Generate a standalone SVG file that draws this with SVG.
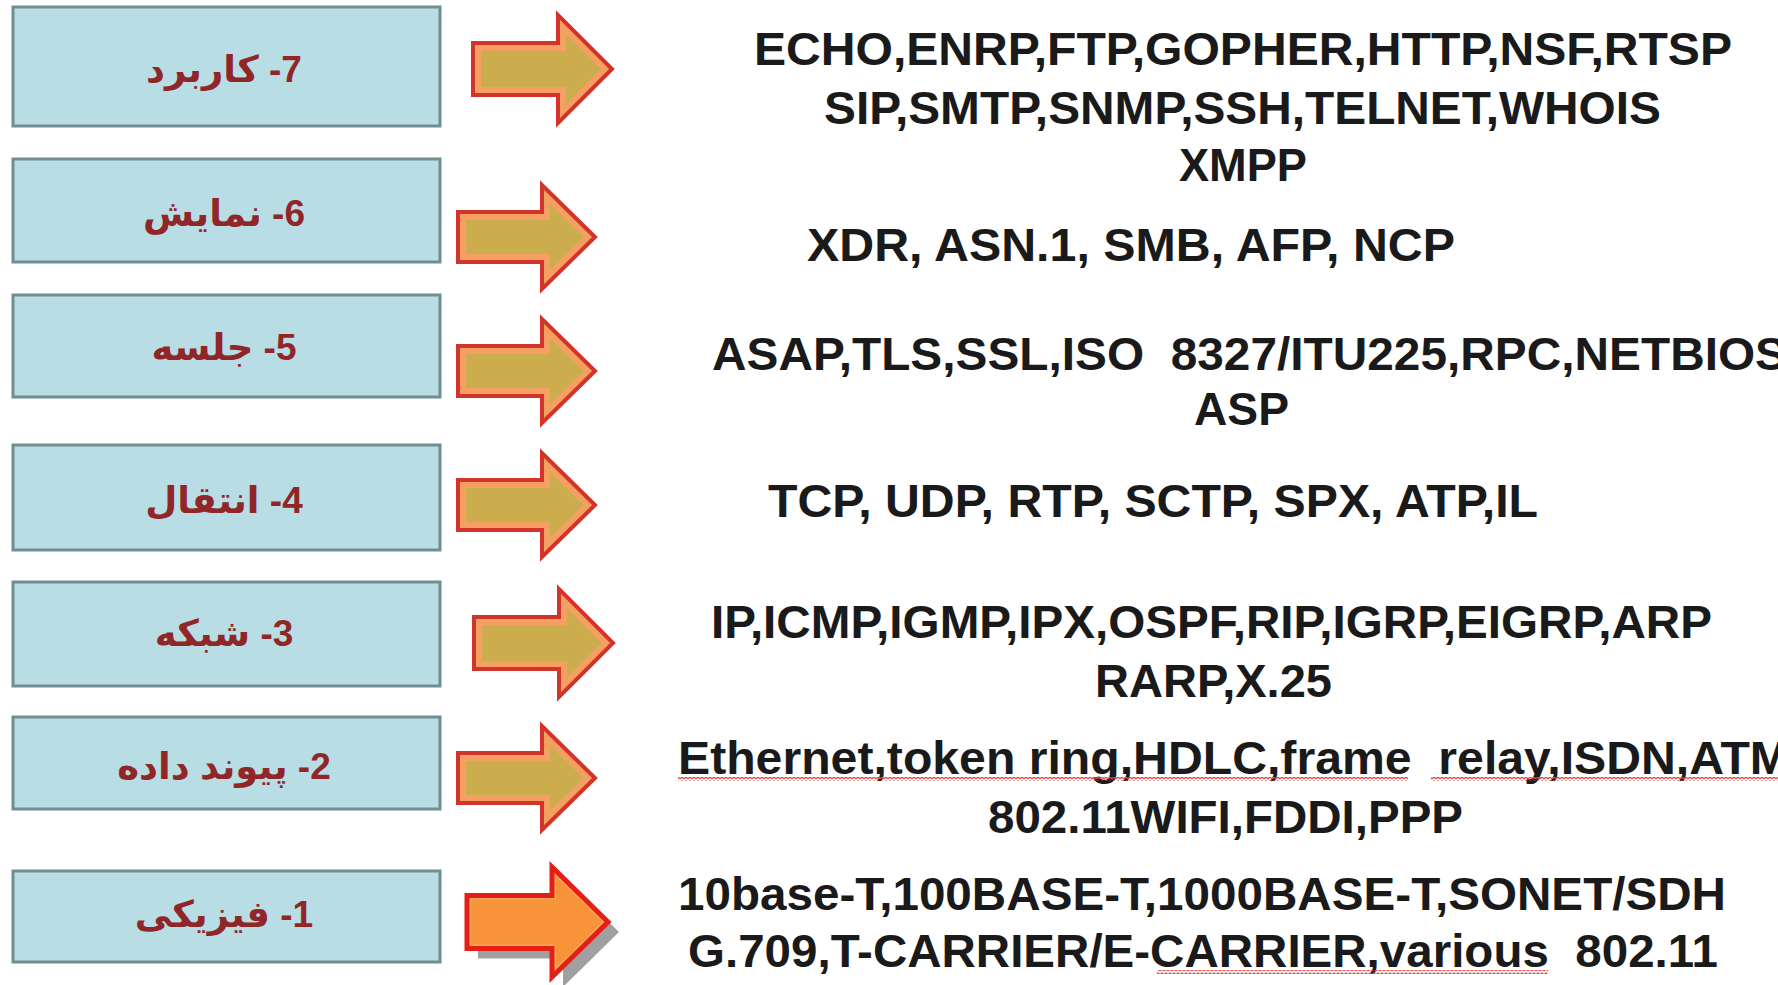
<svg xmlns="http://www.w3.org/2000/svg" xmlns:xlink="http://www.w3.org/1999/xlink" width="1778" height="985" viewBox="0 0 1778 985">
<style>
.box{fill:#B8DDE4;stroke:#718D91;stroke-width:3}
.lbl{font-family:"Liberation Sans","DejaVu Sans",sans-serif;font-weight:bold;font-size:37px;fill:#912628;text-anchor:middle;direction:rtl;unicode-bidi:embed}
.pr{font-family:"Liberation Sans",Arial,sans-serif;font-weight:bold;font-size:47px;fill:#1a1a1a;white-space:pre}
.af{fill:#CCAD4E}
.ab{fill:none;stroke:#F5A062;stroke-width:16}
.ar{fill:none;stroke:#D2342A;stroke-width:4;stroke-linejoin:miter}
</style>
<defs>
<path id="shA" d="M0,-26 H85 V-54 L139,0 L85,54 V26 H0 Z"/>
<path id="shB" d="M0,-25 H84 V-52 L137,0 L84,52 V25 H0 Z"/>
<path id="sh1" d="M0,-26.5 H85 V-55 L141,0 L85,55 V26.5 H0 Z"/>
<clipPath id="cA"><use xlink:href="#shA"/></clipPath>
<clipPath id="cB"><use xlink:href="#shB"/></clipPath>
<clipPath id="c1"><use xlink:href="#sh1"/></clipPath>
<pattern id="sq" width="4" height="4" patternUnits="userSpaceOnUse"><path d="M0,3 L2,1 L4,3" fill="none" stroke="#D94C4C" stroke-width="1.3"/></pattern>
</defs>
<rect width="1778" height="985" fill="#ffffff"/>

<g id="layer7"><rect class="box" x="13" y="7" width="427" height="119"/><text class="lbl" x="224" y="82">7- کاربرد</text></g>
<g id="layer6"><rect class="box" x="13" y="159" width="427" height="103"/><text class="lbl" x="224" y="226">6- نمایش</text></g>
<g id="layer5"><rect class="box" x="13" y="295" width="427" height="102"/><text class="lbl" x="224" y="360">5- جلسه</text></g>
<g id="layer4"><rect class="box" x="13" y="445" width="427" height="105"/><text class="lbl" x="224" y="513">4- انتقال</text></g>
<g id="layer3"><rect class="box" x="13" y="582" width="427" height="104"/><text class="lbl" x="224" y="646">3- شبکه</text></g>
<g id="layer2"><rect class="box" x="13" y="717" width="427" height="92"/><text class="lbl" x="224" y="779">2- پیوند داده</text></g>
<g id="layer1"><rect class="box" x="13" y="871" width="427" height="91"/><text class="lbl" x="224" y="927">1- فیزیکی</text></g>

<g id="connectors">
<g transform="translate(473,69)"><use xlink:href="#shA" class="af"/><use xlink:href="#shA" class="ab" clip-path="url(#cA)"/><use xlink:href="#shA" class="ar"/></g>
<g transform="translate(458,237)"><use xlink:href="#shB" class="af"/><use xlink:href="#shB" class="ab" clip-path="url(#cB)"/><use xlink:href="#shB" class="ar"/></g>
<g transform="translate(458,371)"><use xlink:href="#shB" class="af"/><use xlink:href="#shB" class="ab" clip-path="url(#cB)"/><use xlink:href="#shB" class="ar"/></g>
<g transform="translate(458,505)"><use xlink:href="#shB" class="af"/><use xlink:href="#shB" class="ab" clip-path="url(#cB)"/><use xlink:href="#shB" class="ar"/></g>
<g transform="translate(474,643)"><use xlink:href="#shA" class="af"/><use xlink:href="#shA" class="ab" clip-path="url(#cA)"/><use xlink:href="#shA" class="ar"/></g>
<g transform="translate(458,778)"><use xlink:href="#shB" class="af"/><use xlink:href="#shB" class="ab" clip-path="url(#cB)"/><use xlink:href="#shB" class="ar"/></g>
<g transform="translate(467,922)">
<use xlink:href="#sh1" transform="translate(11,10)" fill="#A0A0A0"/>
<use xlink:href="#sh1" fill="#F7943A"/>
<use xlink:href="#sh1" fill="none" stroke="#FBA65A" stroke-width="8" clip-path="url(#c1)"/>
<use xlink:href="#sh1" fill="none" stroke="#E51F16" stroke-width="5"/>
</g>
</g>

<g id="protocols7"><text class="pr" x="754" y="65" textLength="978" lengthAdjust="spacingAndGlyphs">ECHO,ENRP,FTP,GOPHER,HTTP,NSF,RTSP</text><text class="pr" x="824" y="124" textLength="837" lengthAdjust="spacingAndGlyphs">SIP,SMTP,SNMP,SSH,TELNET,WHOIS</text><text class="pr" x="1179" y="181" textLength="128" lengthAdjust="spacingAndGlyphs">XMPP</text></g>
<g id="protocols6"><text class="pr" x="807" y="261" textLength="648" lengthAdjust="spacingAndGlyphs">XDR, ASN.1, SMB, AFP, NCP</text></g>
<g id="protocols5"><text class="pr" x="712" y="370" textLength="1075" lengthAdjust="spacingAndGlyphs" xml:space="preserve">ASAP,TLS,SSL,ISO  8327/ITU225,RPC,NETBIOS</text><text class="pr" x="1194" y="425" textLength="95" lengthAdjust="spacingAndGlyphs">ASP</text></g>
<g id="protocols4"><text class="pr" x="768" y="517" textLength="770" lengthAdjust="spacingAndGlyphs">TCP, UDP, RTP, SCTP, SPX, ATP,IL</text></g>
<g id="protocols3"><text class="pr" x="711" y="638" textLength="1001" lengthAdjust="spacingAndGlyphs">IP,ICMP,IGMP,IPX,OSPF,RIP,IGRP,EIGRP,ARP</text><text class="pr" x="1095" y="697" textLength="237" lengthAdjust="spacingAndGlyphs">RARP,X.25</text></g>
<g id="protocols2"><text class="pr" x="678" y="774" textLength="1112" lengthAdjust="spacingAndGlyphs" xml:space="preserve">Ethernet,token ring,HDLC,frame  relay,ISDN,ATM</text><text class="pr" x="988" y="833" textLength="475" lengthAdjust="spacingAndGlyphs">802.11WIFI,FDDI,PPP</text>
<rect x="678" y="777" width="730" height="4" fill="url(#sq)"/><rect x="1431" y="777" width="347" height="4" fill="url(#sq)"/></g>
<g id="protocols1"><text class="pr" x="678" y="910" textLength="1048" lengthAdjust="spacingAndGlyphs">10base-T,100BASE-T,1000BASE-T,SONET/SDH</text><text class="pr" x="688" y="967" textLength="1030" lengthAdjust="spacingAndGlyphs" xml:space="preserve">G.709,T-CARRIER/E-CARRIER,various  802.11</text>
<rect x="1157" y="970" width="391" height="4" fill="url(#sq)"/></g>
</svg>
